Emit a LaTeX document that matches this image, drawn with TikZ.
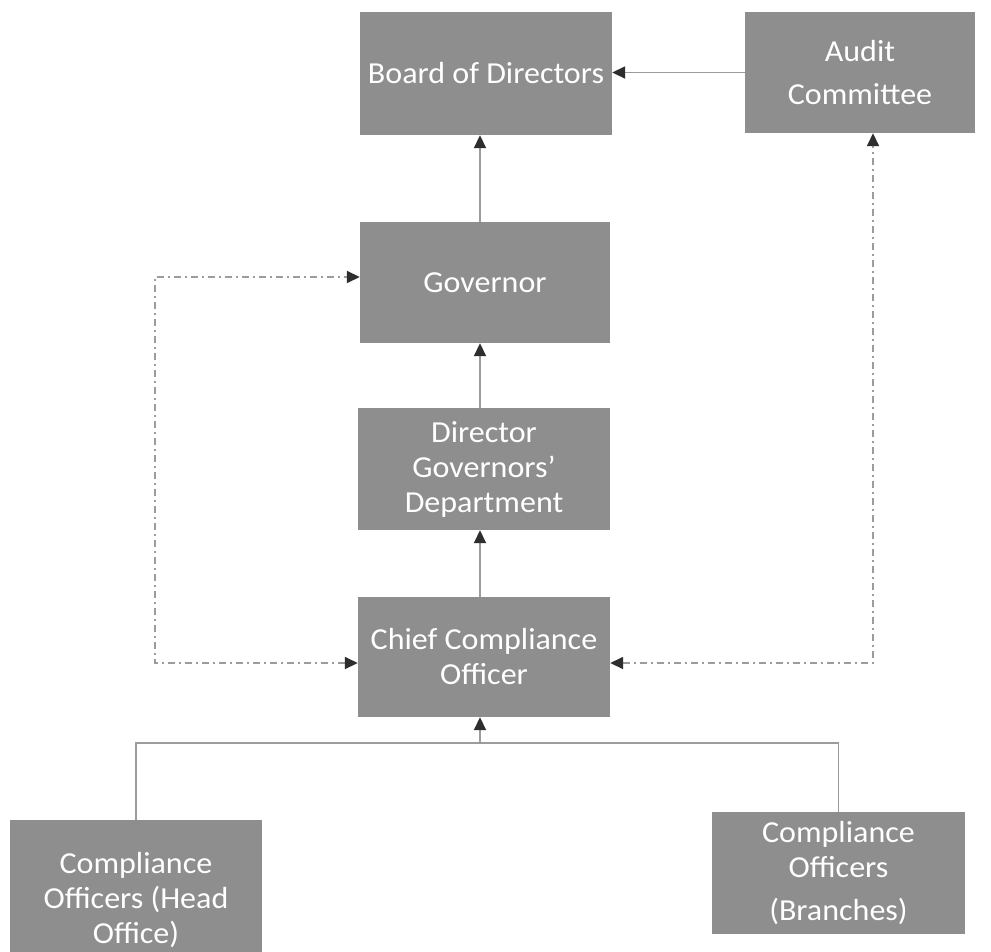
\documentclass[tikz,border=0pt]{standalone}
\usepackage{fontspec}
\setmainfont{Carlito}[FakeStretch=1.05]
\usetikzlibrary{arrows.meta}
\definecolor{boxgray}{HTML}{8E8E8E}
\definecolor{linegray}{HTML}{9C9C9C}
\definecolor{headgray}{HTML}{2E2E2E}
\begin{document}
\begin{tikzpicture}[x=1pt,y=-1pt,
  box/.style={fill=boxgray, text=white, inner sep=0pt, align=center,
    font=\fontsize{30.5}{35}\selectfont},
  conn/.style={draw=linegray, line width=1.8pt},
  dd/.style={draw=linegray, line width=1.6pt, dash pattern=on 7pt off 4pt on 2pt off 4pt},
  tip/.style={-{Triangle[length=13pt,width=12pt,color=headgray]}},
  tips/.style={{Triangle[length=13pt,width=12pt,color=headgray]}-{Triangle[length=13pt,width=12pt,color=headgray]}}]
\useasboundingbox (0,0) rectangle (991,951);
\clip (0,0) rectangle (991,951);
\fill[white] (0,0) rectangle (991,951);

\node[box, minimum width=252, minimum height=123] (board) at (486,73.5) {Board of Directors};
\node[box, minimum width=230, minimum height=121] (audit) at (860,72.5) {Audit\\[8pt]Committee};
\node[box, minimum width=250, minimum height=121] (gov) at (485,282.5) {Governor};
\node[box, minimum width=252, minimum height=122] (dir) at (484,469) {Director\\Governors’\\Department};
\node[box, minimum width=252, minimum height=120] (cco) at (484,657) {Chief Compliance\\Officer};
\node[box, minimum width=252, minimum height=161] (head) at (136,900.5) {Compliance\\Officers (Head\\Office)};
\node[box, minimum width=253, minimum height=122] (branch) at (838.5,873) {Compliance\\Officers\\[8pt](Branches)};

\coordinate (vx) at (480,0);
\coordinate (lx) at (155,0);
\coordinate (rx) at (873,0);
\coordinate (bus) at (0,743);

% solid connectors
\draw[conn, tip] (audit.west) -- (audit.west -| board.east);
\draw[conn, tip] (gov.north -| vx) -- (board.south -| vx);
\draw[conn, tip] (dir.north -| vx) -- (gov.south -| vx);
\draw[conn, tip] (cco.north -| vx) -- (dir.south -| vx);
\draw[conn] (head.north) -- (head.north |- bus) -- (branch.north |- bus) -- (branch.north);
\draw[conn, tip] (vx |- bus) -- (cco.south -| vx);

% dash-dot connectors
\draw[dd, tips] ([yshift=-6pt]cco.west) -- ([yshift=-6pt]cco.west -| lx)
  -- ([yshift=5.5pt]gov.west -| lx) -- ([yshift=5.5pt]gov.west);
\draw[dd, tips] ([yshift=-6pt]cco.east) -- ([yshift=-6pt]cco.east -| rx)
  -- (audit.south -| rx);
\end{tikzpicture}
\end{document}
